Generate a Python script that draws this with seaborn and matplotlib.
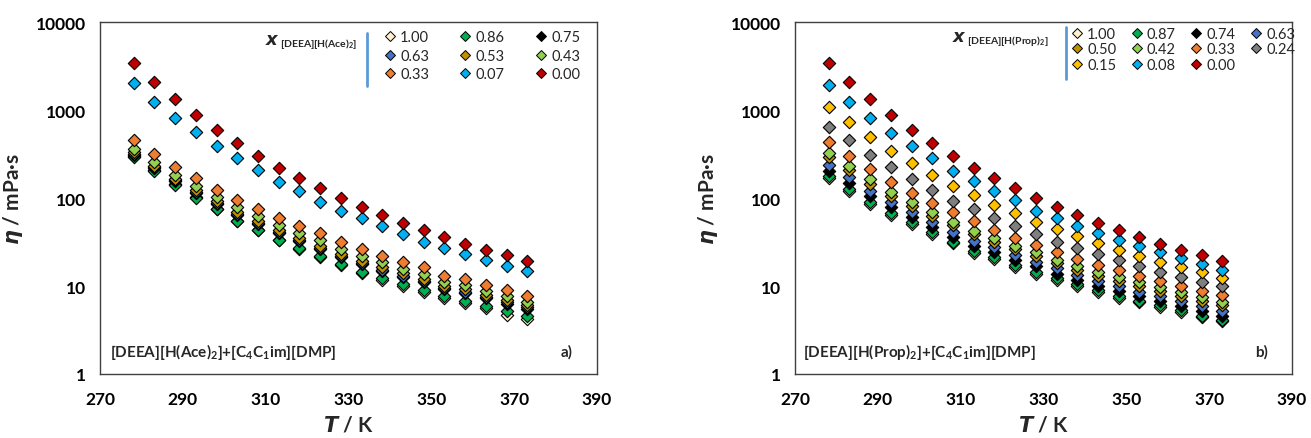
import matplotlib
matplotlib.use("Agg")
import matplotlib.pyplot as plt
import seaborn as sns
import pandas as pd
from matplotlib.lines import Line2D

sns.set_style("white")
plt.rcParams['font.family'] = ['Lato', 'DejaVu Sans']
plt.rcParams['mathtext.fontset'] = 'custom'
plt.rcParams['mathtext.rm'] = 'Lato:bold'
plt.rcParams['mathtext.bf'] = 'Lato:bold'
plt.rcParams['mathtext.it'] = 'DejaVu Sans:italic:bold'

# ---------------- data ----------------
T = [278.15, 283.15, 288.15, 293.15, 298.15, 303.15, 308.15, 313.15, 318.15, 323.15,
     328.15, 333.15, 338.15, 343.15, 348.15, 353.15, 358.15, 363.15, 368.15, 373.15]

# panel a) [DEEA][H(Ace)2] + [C4C1im][DMP]
ace_labels = ["1.00", "0.86", "0.75", "0.63", "0.53", "0.43", "0.33", "0.07", "0.00"]
ace_colors = ["#FFF2CC", "#00B050", "#000000", "#4472C4", "#BF9000", "#92D050",
              "#ED7D31", "#00B0F0", "#C00000"]
ace_100 = [303.5, 210.2, 144.7, 103.4, 75.7, 55.2, 43.3, 33.4, 26.4, 21.4,
           17.3, 14.1, 11.8, 10.07, 8.55, 7.24, 6.39, 5.56, 4.74, 4.22]
ace_086 = [290, 203, 140.5, 101.3, 75.0, 55.2, 43.3, 33.7, 26.9, 21.9,
           17.8, 14.6, 12.3, 10.5, 9.0, 7.64, 6.81, 5.97, 5.16, 4.60]
ace_075 = [307.7, 217.7, 154, 113.2, 84.5, 63.6, 50.5, 39.6, 32.1, 26.3,
           21.4, 17.6, 14.9, 12.8, 11.0, 9.22, 8.31, 7.25, 6.32, 5.54]
ace_063 = [316, 224, 158.5, 116.5, 87, 65.5, 52, 40.8, 33.1, 27.1,
           22.0, 18.1, 15.3, 13.1, 11.3, 9.47, 8.54, 7.45, 6.5, 5.7]
ace_053 = [329, 232.8, 165.4, 122.1, 91.5, 69.3, 55.1, 43.2, 35.3, 28.8,
           23.3, 19.3, 16.4, 14.1, 12.1, 10.1, 9.15, 7.95, 7.0, 6.07]
ace_043 = [360, 255.6, 183.9, 137.1, 102.6, 78.9, 62.9, 49.3, 40.4, 32.9,
           26.6, 21.9, 18.6, 15.8, 13.7, 11.2, 10.2, 8.81, 7.74, 6.62]
ace_033 = [456, 316, 227, 167, 123, 94.9, 75.0, 58.5, 48.4, 39.5,
           31.6, 26.0, 22.2, 18.9, 16.3, 13.1, 12.0, 10.3, 9.08, 7.64]
ace_007 = [2010, 1243, 811, 558, 393, 285, 206, 153, 119, 90.8,
           71.8, 58.9, 47.5, 38.7, 32.0, 27.1, 23.1, 19.7, 17.0, 14.7]
il_000 = [3420, 2097, 1334, 877, 597, 419, 304, 221, 167, 129,
          99.3, 78.4, 63.6, 51.7, 43.3, 35.7, 30.0, 25.6, 22.5, 19.4]
ace_values = [ace_100, ace_086, ace_075, ace_063, ace_053, ace_043, ace_033, ace_007, il_000]

# panel b) [DEEA][H(Prop)2] + [C4C1im][DMP]
prop_labels = ["1.00", "0.87", "0.74", "0.63", "0.50", "0.42", "0.33", "0.24",
               "0.15", "0.08", "0.00"]
prop_colors = ["#FFF2CC", "#00B050", "#000000", "#4472C4", "#BF9000", "#92D050",
               "#ED7D31", "#7F7F7F", "#FFC000", "#00B0F0", "#C00000"]
prop_100 = [170, 121, 86.5, 64.2, 50.5, 38.8, 30.5, 24.0, 20.2, 16.5,
            13.6, 11.6, 10.0, 8.57, 7.4, 6.5, 5.8, 5.08, 4.4, 3.95]
prop_087 = [179, 127, 90.8, 67.5, 53.0, 40.7, 32.0, 25.2, 21.2, 17.3,
            14.3, 12.2, 10.5, 9.0, 7.76, 6.81, 6.08, 5.33, 4.6, 4.14]
prop_074 = [204, 148, 106, 78.4, 60.4, 46.5, 36.5, 28.7, 24.2, 19.7,
            16.7, 13.7, 11.7, 10.1, 8.71, 7.64, 6.81, 5.97, 5.24, 4.6]
prop_063 = [237, 175, 119, 89.3, 68.8, 53.0, 41.6, 32.7, 27.5, 22.5,
            18.6, 15.9, 13.3, 11.5, 10.1, 8.61, 7.76, 6.81, 5.97, 5.24]
prop_050 = [290, 208, 144, 106, 81.7, 61.9, 49.3, 39.0, 31.4, 26.3,
            21.8, 18.2, 15.3, 13.1, 11.5, 9.92, 8.84, 7.76, 6.81, 6.08]
prop_042 = [322, 229, 164, 118, 90.8, 68.8, 53.8, 42.5, 35.1, 28.7,
            24.2, 19.9, 16.7, 14.3, 12.6, 11.0, 9.66, 8.47, 7.44, 6.63]
prop_033 = [430, 302, 214, 153, 114, 87.7, 68.8, 54.3, 43.6, 35.1,
            29.4, 24.2, 20.3, 17.5, 15.2, 12.9, 11.5, 10.1, 8.84, 7.9]
prop_024 = [646, 456, 308, 223, 164, 124, 93.2, 75.0, 58.8, 48.4,
            39.0, 31.8, 27.0, 23.1, 19.7, 16.7, 14.5, 12.8, 11.2, 9.92]
prop_015 = [1090, 724, 497, 342, 248, 184, 138, 108, 83.2, 67.5,
            53.0, 44.4, 36.7, 30.5, 25.6, 22.1, 18.6, 16.3, 14.3, 12.3]
prop_008 = [1923, 1223, 811, 548, 387, 285, 204, 157, 119, 95.7,
            71.7, 59.3, 48.4, 40.0, 33.3, 28.2, 24.2, 20.8, 17.8, 15.3]
prop_values = [prop_100, prop_087, prop_074, prop_063, prop_050, prop_042, prop_033,
               prop_024, prop_015, prop_008, il_000]

x_ticks = [270, 290, 310, 330, 350, 370, 390]
y_ticks = [1, 10, 100, 1000, 10000]
y_ticklabels = ["1", "10", "100", "1000", "10000"]

# ---------------- figure ----------------
W, H = 1311, 439
fig = plt.figure(figsize=(W / 100, H / 100), dpi=100)


def px_axes(x0, y0, x1, y1):
    return fig.add_axes([x0 / W, 1 - y1 / H, (x1 - x0) / W, (y1 - y0) / H])


def draw_panel(ax, labels, colors, values):
    for lab, col, vals in zip(labels, colors, values):
        df = pd.DataFrame({"T": T, "eta": vals})
        sns.scatterplot(data=df, x="T", y="eta", ax=ax, color=col, marker="D",
                        s=40, edgecolor="black", linewidth=0.8, zorder=3, legend=False)
    ax.set_yscale("log")
    ax.set_xlim(270, 390)
    ax.set_ylim(1, 10000)
    ax.set_xticks(x_ticks, labels=[str(v) for v in x_ticks], fontweight="bold", fontsize=12.5)
    ax.set_yticks(y_ticks, labels=y_ticklabels, fontweight="bold", fontsize=12.5)
    ax.minorticks_off()
    ax.tick_params(direction="in", length=4, width=0.8, colors="#404040",
                   labelcolor="black")
    ax.tick_params(axis="x", pad=12)
    ax.tick_params(axis="y", pad=10)
    for sp in ax.spines.values():
        sp.set_color("#404040")
        sp.set_linewidth(1.0)
    ax.set_xlabel("$\\mathit{T}$ / K", fontsize=15, fontweight="bold", labelpad=6)
    ax.set_ylabel("$\\mathit{\\eta}$ / mPa·s", fontsize=15, fontweight="bold", labelpad=8)
    ax.grid(False)


def legend_handles(labels, colors):
    return [Line2D([], [], linestyle="none", marker="D", markersize=5,
                   markerfacecolor=c, markeredgecolor="black", markeredgewidth=0.7,
                   label=l) for l, c in zip(labels, colors)]


# panel a
axa = px_axes(100, 23, 597, 375)
draw_panel(axa, ace_labels, ace_colors, ace_values)
h = legend_handles(ace_labels, ace_colors)
order = [0, 3, 6, 1, 4, 7, 2, 5, 8]
axa.legend([h[i] for i in order], [ace_labels[i] for i in order], ncol=3,
           loc="upper left", bbox_to_anchor=(384 / W, 1 - 31 / H),
           bbox_transform=fig.transFigure, frameon=False, fontsize=10.5,
           handlelength=0.8, handletextpad=0.3, columnspacing=2.1,
           labelspacing=0.32, borderpad=0, borderaxespad=0)
fig.add_artist(Line2D([366.5 / W, 366.5 / W], [1 - 34 / H, 1 - 87 / H],
                      color="#5B9BD5", linewidth=2))
fig.text(280 / W, 1 - 40 / H, "$\\mathit{x}$", fontsize=13, ha="right", va="center")
fig.text(280 / W, 1 - 44 / H, "[DEEA][H(Ace)$_\\mathbf{2}$]", fontsize=7.5,
         fontweight="bold", ha="left", va="center")
fig.text(110 / W, 1 - 352 / H, "[DEEA][H(Ace)$_\\mathbf{2}$]+[C$_\\mathbf{4}$C$_\\mathbf{1}$im][DMP]",
         fontsize=11, fontweight="bold", ha="left", va="center")
fig.text(567 / W, 1 - 352 / H, "a)", fontsize=11, fontweight="bold", ha="center", va="center")

# panel b
axb = px_axes(795, 23, 1292, 375)
draw_panel(axb, prop_labels, prop_colors, prop_values)
h = legend_handles(prop_labels, prop_colors)
order = [0, 4, 8, 1, 5, 9, 2, 6, 10, 3, 7]
axb.legend([h[i] for i in order], [prop_labels[i] for i in order], ncol=4,
           loc="upper left", bbox_to_anchor=(1071 / W, 1 - 28 / H),
           bbox_transform=fig.transFigure, frameon=False, fontsize=10.5,
           handlelength=0.8, handletextpad=0.3, columnspacing=1.0,
           labelspacing=0.09, borderpad=0, borderaxespad=0)
fig.add_artist(Line2D([1065.5 / W, 1065.5 / W], [1 - 28 / H, 1 - 80 / H],
                      color="#5B9BD5", linewidth=2))
fig.text(967 / W, 1 - 37 / H, "$\\mathit{x}$", fontsize=13, ha="right", va="center")
fig.text(967 / W, 1 - 41 / H, "[DEEA][H(Prop)$_\\mathbf{2}$]", fontsize=7.5,
         fontweight="bold", ha="left", va="center")
fig.text(803 / W, 1 - 352 / H, "[DEEA][H(Prop)$_\\mathbf{2}$]+[C$_\\mathbf{4}$C$_\\mathbf{1}$im][DMP]",
         fontsize=11, fontweight="bold", ha="left", va="center")
fig.text(1262 / W, 1 - 352 / H, "b)", fontsize=11, fontweight="bold", ha="center", va="center")

fig.savefig("out.png", dpi=100)
